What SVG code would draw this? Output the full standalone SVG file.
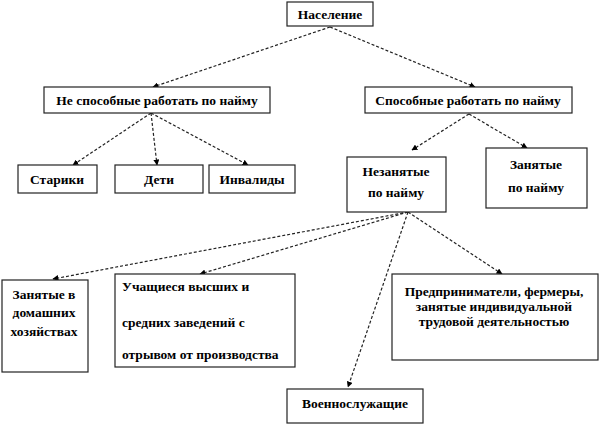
<svg xmlns="http://www.w3.org/2000/svg" width="600" height="426" viewBox="0 0 600 426" xml:space="preserve">
<defs>
<marker id="ah" viewBox="0 0 10 10" refX="9" refY="5" markerWidth="6" markerHeight="6" orient="auto" markerUnits="userSpaceOnUse">
<path d="M0,0 L10,5 L0,10 z" fill="#000"/>
</marker>
<style>
.box{fill:#fff;stroke:#222;stroke-width:1.2}
.t{font-family:"Liberation Serif","Times New Roman",serif;font-weight:bold;font-size:13.5px;fill:#000}
.c{text-anchor:middle}
.cn{stroke:#222;stroke-width:1.2;stroke-dasharray:3,2;fill:none;marker-end:url(#ah)}
</style>
</defs>
<rect width="600" height="426" fill="#fff"/>
<g id="connectors">
<line class="cn" x1="330" y1="27" x2="153" y2="87"/>
<line class="cn" x1="330" y1="27" x2="475" y2="87"/>
<line class="cn" x1="151" y1="113" x2="73" y2="165"/>
<line class="cn" x1="151" y1="113" x2="157" y2="165"/>
<line class="cn" x1="151" y1="113" x2="248" y2="165"/>
<line class="cn" x1="469" y1="114" x2="412" y2="150"/>
<line class="cn" x1="469" y1="114" x2="527" y2="148"/>
<line class="cn" x1="408" y1="212" x2="53" y2="279"/>
<line class="cn" x1="408" y1="212" x2="200" y2="274"/>
<line class="cn" x1="408" y1="212" x2="502" y2="274"/>
<line class="cn" x1="408" y1="212" x2="348" y2="387"/>
</g>
<g id="n-naselenie"><rect class="box" x="287" y="2" width="86" height="24"/><text class="t c" x="330" y="19">Население</text></g>
<g id="n-nesposobnye"><rect class="box" x="44" y="87" width="226" height="26"/><text class="t c" x="157" y="105">Не  способные работать по найму</text></g>
<g id="n-sposobnye"><rect class="box" x="365" y="87" width="207" height="26"/><text class="t c" x="468" y="105">Способные работать  по найму</text></g>
<g id="n-stariki"><rect class="box" x="18" y="165" width="79" height="28"/><text class="t c" x="57" y="184">Старики</text></g>
<g id="n-deti"><rect class="box" x="115" y="165" width="88" height="28"/><text class="t c" x="159" y="184">Дети</text></g>
<g id="n-invalidy"><rect class="box" x="209" y="165" width="86" height="28"/><text class="t c" x="252" y="184">Инвалиды</text></g>
<g id="n-nezanyatye"><rect class="box" x="347" y="157" width="99" height="55"/><text class="t c" x="396" y="176">Незанятые</text><text class="t c" x="396" y="197">по найму</text></g>
<g id="n-zanyatye"><rect class="box" x="486" y="148" width="101" height="60"/><text class="t c" x="536" y="169">Занятые</text><text class="t c" x="536" y="192">по найму</text></g>
<g id="n-domashnie"><rect class="box" x="2" y="280" width="86" height="92"/><text class="t c" x="44" y="299">Занятые в</text><text class="t c" x="44" y="317">домашних</text><text class="t c" x="44" y="336">хозяйствах</text></g>
<g id="n-uchashchiesya"><rect class="box" x="115" y="274" width="180" height="93"/><text class="t" x="122" y="291">Учащиеся  высших и</text><text class="t" x="122" y="327">средних заведений с</text><text class="t" x="122" y="359">отрывом от  производства</text></g>
<g id="n-predprinimateli"><rect class="box" x="392" y="274" width="206" height="86"/><text class="t c" x="494" y="296">Предприниматели, фермеры,</text><text class="t c" x="494" y="311">занятые индивидуальной</text><text class="t c" x="494" y="326">трудовой деятельностью</text></g>
<g id="n-voennye"><rect class="box" x="287" y="389" width="136" height="34"/><text class="t c" x="355" y="408">Военнослужащие</text></g>
</svg>
